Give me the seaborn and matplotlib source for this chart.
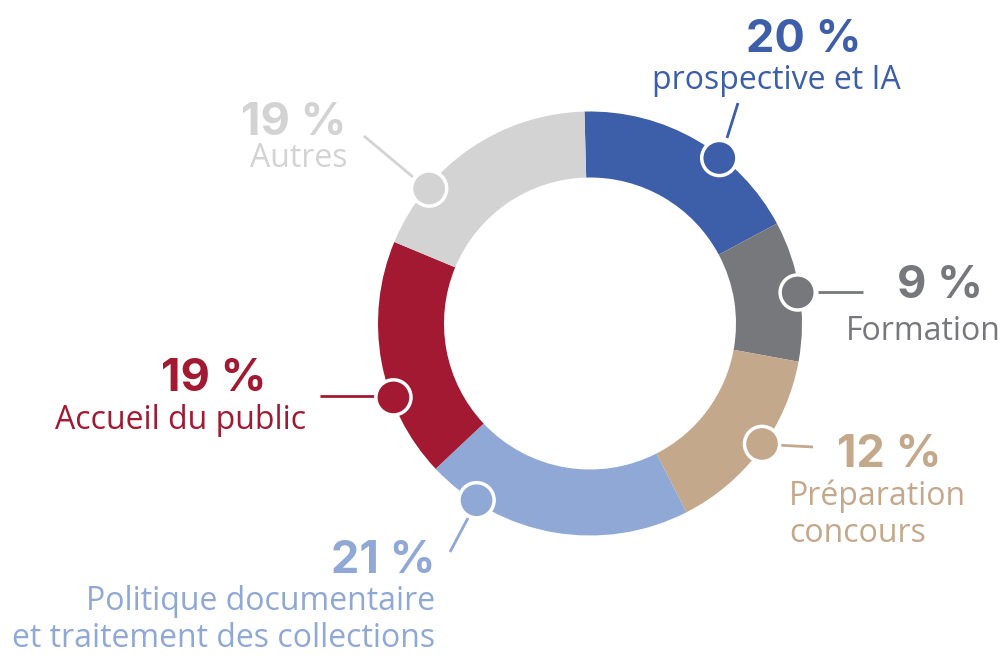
import numpy as np
import matplotlib
matplotlib.use("Agg")
import matplotlib.pyplot as plt
import seaborn as sns

# category data (clockwise from the top)
categories = ["prospective et IA", "Formation", "Préparation\nconcours",
              "Politique documentaire\net traitement des collections",
              "Accueil du public", "Autres"]
pct_labels = [20, 9, 12, 21, 19, 19]
# arc sizes as drawn in the reference ring
arc_sizes = [17.6, 10.7, 14.6, 20.5, 18.3, 18.3]
colors = ["#3D5EA8", "#77787B", "#C4A88B", "#8FA8D6", "#A31931", "#D3D3D3"]

# layout (pixel space, y measured from the top of the image)
W, H = 1004, 655
CX, CY = 590, 323.5
R_OUT, RING = 212, 66
dot_angle = [38, 81.5, 125, 212.7, 249.4, 310]   # clockwise from top
pct_pos = [(804, 52, "center"), (983, 298, "right"), (837, 467, "left"),
           (436, 573, "right"), (267, 391, "right"), (347, 135, "right")]
# y = baseline of the last line
lab_pos = [(776, 89, "center"), (1001, 340, "right"), (789, 542, "left"),
           (435, 647, "right"), (306, 429, "right"), (348, 167, "right")]
leaders = [((738, 103), (727, 138)), ((818, 292), (863, 292)),
           ((777, 445), (813, 447)), ((468, 518), (450, 552)),
           ((378, 396), (320, 396)), ((413, 177), (364, 136))]

sns.set_theme(style="white")
plt.rcParams["font.family"] = ["Open Sans", "DejaVu Sans"]
palette = sns.color_palette(colors)

fig = plt.figure(figsize=(W / 100, H / 100), dpi=100)
ax = fig.add_axes([0, 0, 1, 1])
ax.set_xlim(0, W)
ax.set_ylim(0, H)
ax.set_aspect("equal")
ax.axis("off")

ax.pie(arc_sizes, colors=palette, startangle=91.5, counterclock=False,
       center=(CX, H - CY), radius=R_OUT,
       wedgeprops=dict(width=RING, linewidth=0))
ax.set_xlim(0, W)
ax.set_ylim(0, H)

# leader lines
for (p0, p1), c in zip(leaders, palette):
    ax.plot([p0[0], p1[0]], [H - p0[1], H - p1[1]], color=c, lw=2,
            solid_capstyle="butt", zorder=3)

# dots on the ring edge
th = np.radians(dot_angle)
r_dot = 210
dx = CX + r_dot * np.sin(th)
dy = (H - CY) + r_dot * np.cos(th)
ax.scatter(dx, dy, s=640, c=palette, edgecolors="white", linewidths=2.5,
           zorder=4)

# texts
for i, c in enumerate(palette):
    x, y, ha = pct_pos[i]
    ax.text(x, H - y, f"{pct_labels[i]} %", color=c, fontsize=32.5,
            fontweight="bold", ha=ha, va="baseline", family=["Inter", "Lato"])
    x, y, ha = lab_pos[i]
    ax.text(x, H - y, categories[i], color=c, fontsize=23, ha=ha,
            va="baseline", linespacing=1.15, multialignment=ha)

fig.savefig("out.png", dpi=100)
